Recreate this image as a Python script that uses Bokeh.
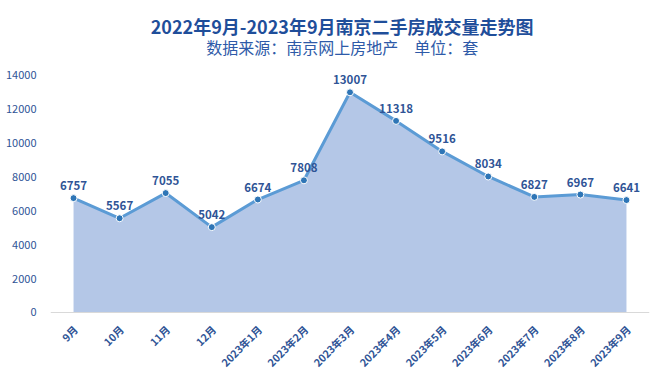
from bokeh.plotting import figure
from bokeh.models import ColumnDataSource, LabelSet, Label, FactorRange, Span
from bokeh.core.properties import value
from bokeh.embed import file_html
from bokeh.resources import INLINE
import math

months = ["9月", "10月", "11月", "12月", "2023年1月", "2023年2月", "2023年3月",
          "2023年4月", "2023年5月", "2023年6月", "2023年7月", "2023年8月", "2023年9月"]
volumes = [6757, 5567, 7055, 5042, 6674, 7808, 13007, 11318, 9516, 8034, 6827, 6967, 6641]
y_ticks = [0, 2000, 4000, 6000, 8000, 10000, 12000, 14000]

title_text = "2022年9月-2023年9月南京二手房成交量走势图"
subtitle_text = "数据来源：南京网上房地产　单位：套"

FONT = "Noto Sans CJK SC"
DARK = "#2F5496"

src = ColumnDataSource(dict(m=months, v=volumes, lab=[str(v) for v in volumes],
                            zero=[0] * len(months)))

# frame spans the full canvas height: headroom above 14000 holds the titles,
# room below 0 holds the rotated month labels
p = figure(width=663, height=381, x_range=FactorRange(*months), y_range=(-4076, 18430),
           output_backend="svg", toolbar_location=None,
           min_border_left=50, min_border_right=14, min_border_bottom=0, min_border_top=0)
p.title.visible = False

p.add_layout(Label(x=6.33, y=16953, text=title_text, text_align="center", text_baseline="middle",
                   text_font=FONT, text_font_size="18px", text_font_style="bold",
                   text_color="#1F4E9A"))
p.add_layout(Label(x=6.33, y=15654, text=subtitle_text, text_align="center", text_baseline="middle",
                   text_font=FONT, text_font_size="16px", text_color="#2E5AA8"))

p.varea(x="m", y1=0, y2="v", source=src, fill_color="#B4C7E7")
p.add_layout(Span(location=0, dimension="width", line_color="#D9D9D9", line_width=1))
p.line(x="m", y="v", source=src, line_color="#5B9BD5", line_width=3)
p.scatter(x="m", y="v", source=src, size=7, fill_color="#2E75B6", line_color="white", line_width=1)

labels = LabelSet(x="m", y="v", text="lab", source=src, y_offset=8, text_align="center",
                  text_baseline="bottom", text_font=value(FONT), text_font_size=value("11.5px"),
                  text_font_style=value("bold"), text_color=value(DARK))
p.add_layout(labels)

# rotated category labels under the zero line
month_labels = LabelSet(x="m", y="zero", text="m", source=src, angle=math.pi / 4,
                        text_align="right", text_baseline="middle", x_offset=2, y_offset=-15,
                        text_font=value(FONT), text_font_size=value("10.5px"),
                        text_font_style=value("bold"), text_color=value(DARK))
p.add_layout(month_labels)

p.xgrid.visible = False
p.ygrid.visible = False
p.outline_line_color = None
p.xaxis.visible = False

p.yaxis.ticker = y_ticks
p.yaxis.axis_line_color = None
p.yaxis.major_tick_line_color = None
p.yaxis.minor_tick_line_color = None
p.yaxis.major_label_text_font = FONT
p.yaxis.major_label_text_font_size = "11px"
p.yaxis.major_label_text_color = DARK
p.yaxis.major_label_standoff = 8

p.x_range.range_padding = 0

open("out.html", "w").write(file_html(p, INLINE))
